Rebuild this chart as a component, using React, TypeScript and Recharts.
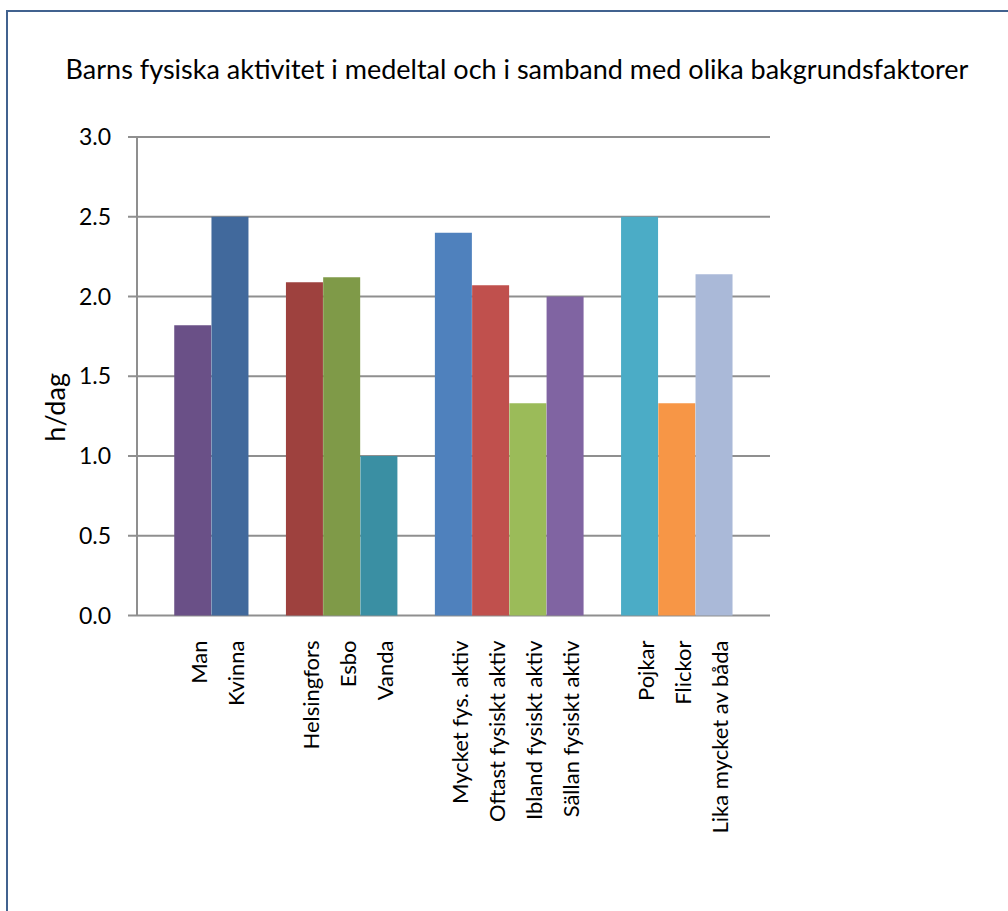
import { BarChart, Bar, Cell, XAxis, YAxis, CartesianGrid } from "recharts";

// categories, with blank slots separating the four background groups
const labels = [
  "",
  "Man",
  "Kvinna",
  "",
  "Helsingfors",
  "Esbo",
  "Vanda",
  "",
  "Mycket fys. aktiv",
  "Oftast fysiskt aktiv",
  "Ibland fysiskt aktiv",
  "Sällan fysiskt aktiv",
  "",
  "Pojkar",
  "Flickor",
  "Lika mycket av båda",
  "",
];

// hours per day
const hours = [null, 1.82, 2.5, null, 2.09, 2.12, 1.0, null, 2.4, 2.07, 1.33, 2.0, null, 2.5, 1.33, 2.14, null];

const colors = [
  "none", "#6a5087", "#41699c", "none", "#9e413e", "#7f9a48", "#3a8fa3", "none",
  "#4f81bd", "#c0504d", "#9bbb59", "#8064a2", "none", "#4bacc6", "#f79646", "#aab9d8", "none",
];

const yTicks = [0, 0.5, 1.0, 1.5, 2.0, 2.5, 3.0];

const data = labels.map((label, i) => ({ label, value: hours[i] }));

const FONT = "Lato, 'Open Sans', sans-serif";
const GRAY = "#8f8f8f";

function CategoryTick({ x, y, payload }: any) {
  if (!payload.value) return null;
  return (
    <g transform={`translate(${x + 14},${y + 17})`}>
      <text transform="rotate(-90)" textAnchor="end" fontSize={22} fontFamily={FONT} fill="#000">
        {payload.value}
      </text>
    </g>
  );
}

function AxisTitle({ viewBox }: any) {
  const cx = viewBox.x + 8;
  const cy = viewBox.y + viewBox.height * 0.565;
  return (
    <text
      x={cx}
      y={cy}
      transform={`rotate(-90 ${cx} ${cy})`}
      textAnchor="middle"
      fontSize={27}
      fontFamily={FONT}
      fill="#000"
    >
      h/dag
    </text>
  );
}

export default function App() {
  return (
    <div
      style={{
        position: "fixed",
        left: 0,
        top: 0,
        width: 1008,
        height: 911,
        background: "#fff",
        overflow: "hidden",
        fontFamily: FONT,
      }}
    >
      <div
        style={{
          position: "absolute",
          left: 6,
          top: 10,
          width: 1100,
          height: 1000,
          border: "2px solid #41628f",
        }}
      />
      <div
        style={{
          position: "absolute",
          left: 0,
          top: 53,
          width: 1034,
          textAlign: "center",
          fontSize: 27,
          lineHeight: "32px",
          color: "#000",
        }}
      >
        Barns fysiska aktivitet i medeltal och i samband med olika bakgrundsfaktorer
      </div>
      <div style={{ position: "absolute", left: 0, top: 0 }}>
        <BarChart
          width={1008}
          height={911}
          data={data}
          barCategoryGap={0}
          margin={{ top: 137, right: 238, left: 57, bottom: 95.5 }}
        >
          <CartesianGrid xAxisId="edge" vertical={false} stroke={GRAY} strokeWidth={2} />
          <XAxis
            xAxisId="edge"
            type="number"
            domain={[0, 1]}
            ticks={[0, 1]}
            tick={false}
            height={0}
            tickSize={8}
            stroke={GRAY}
            strokeWidth={2}
          />
          <XAxis
            xAxisId="cat"
            dataKey="label"
            interval={0}
            axisLine={false}
            tickLine={false}
            height={200}
            tick={<CategoryTick />}
          />
          <YAxis
            width={80}
            domain={[0, 3]}
            ticks={yTicks}
            interval={0}
            tickFormatter={(v: number) => v.toFixed(1)}
            tick={{ fill: "#000", fontSize: 23, fontFamily: FONT }}
            tickSize={9}
            tickMargin={17}
            stroke={GRAY}
            strokeWidth={2}
            label={<AxisTitle />}
          />
          <Bar xAxisId="cat" dataKey="value" isAnimationActive={false}>
            {data.map((d, i) => (
              <Cell key={i} fill={colors[i]} />
            ))}
          </Bar>
        </BarChart>
      </div>
    </div>
  );
}
